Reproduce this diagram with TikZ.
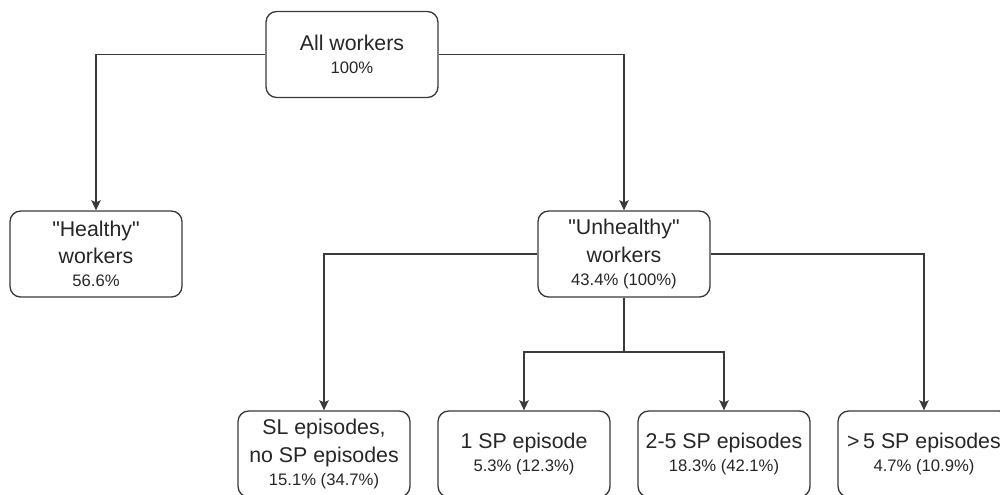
\documentclass[tikz,border=0pt]{standalone}
\usepackage{fontspec}
\setmainfont{Liberation Sans}
\usetikzlibrary{arrows.meta}

\definecolor{edgegray}{HTML}{3A3A3A}
\newcommand{\share}[1]{\\[-3pt]{\fontsize{12.5}{14}\selectfont #1}}
\newcommand{\qt}{\textquotedbl}

\begin{document}
\begin{tikzpicture}[x=0.75pt, y=-0.75pt,
	every node/.style={font=\fontsize{16}{20.3}\selectfont, text=black!85},
	group/.style={draw=edgegray, line width=1pt, rounded corners=8pt, align=center,
		minimum width=129pt, minimum height=64.5pt, inner sep=2pt},
	link/.style={draw=edgegray, line width=0.9pt},
	arrow/.style={link, -{Stealth[length=7.5pt, width=7pt, inset=1.5pt]}}]
	\useasboundingbox (0,0) rectangle (1000,494);
	% top and second level
	\node[group] (all) at (352,54.5) {All workers\share{100\%}};
	\node[group] (healthy) at (96,254) {\qt Healthy\qt\\workers\share{56.6\%}};
	\node[group] (unhealthy) at (624,254) {\qt Unhealthy\qt\\workers\share{43.4\% (100\%)}};
	% bottom row
	\node[group] (slonly) at (324,454) {SL episodes,\\no SP episodes\share{15.1\% (34.7\%)}};
	\node[group] (onesp) at (524,454) {1 SP episode\share{5.3\% (12.3\%)}};
	\node[group] (fewsp) at (724,454) {2-5 SP episodes\share{18.3\% (42.1\%)}};
	\node[group] (manysp) at (924,454) {\textgreater\,5 SP episodes\share{4.7\% (10.9\%)}};
	\coordinate (split) at (624,352);
	% connectors
	\draw[arrow] (all.west) -| (healthy.north);
	\draw[arrow] (all.east) -| (unhealthy.north);
	\draw[arrow] (unhealthy.west) -| (slonly.north);
	\draw[arrow] (unhealthy.east) -| (manysp.north);
	\draw[link] (unhealthy.south) -- (split);
	\draw[arrow] (split) -| (onesp.north);
	\draw[arrow] (split) -| (fewsp.north);
\end{tikzpicture}
\end{document}
